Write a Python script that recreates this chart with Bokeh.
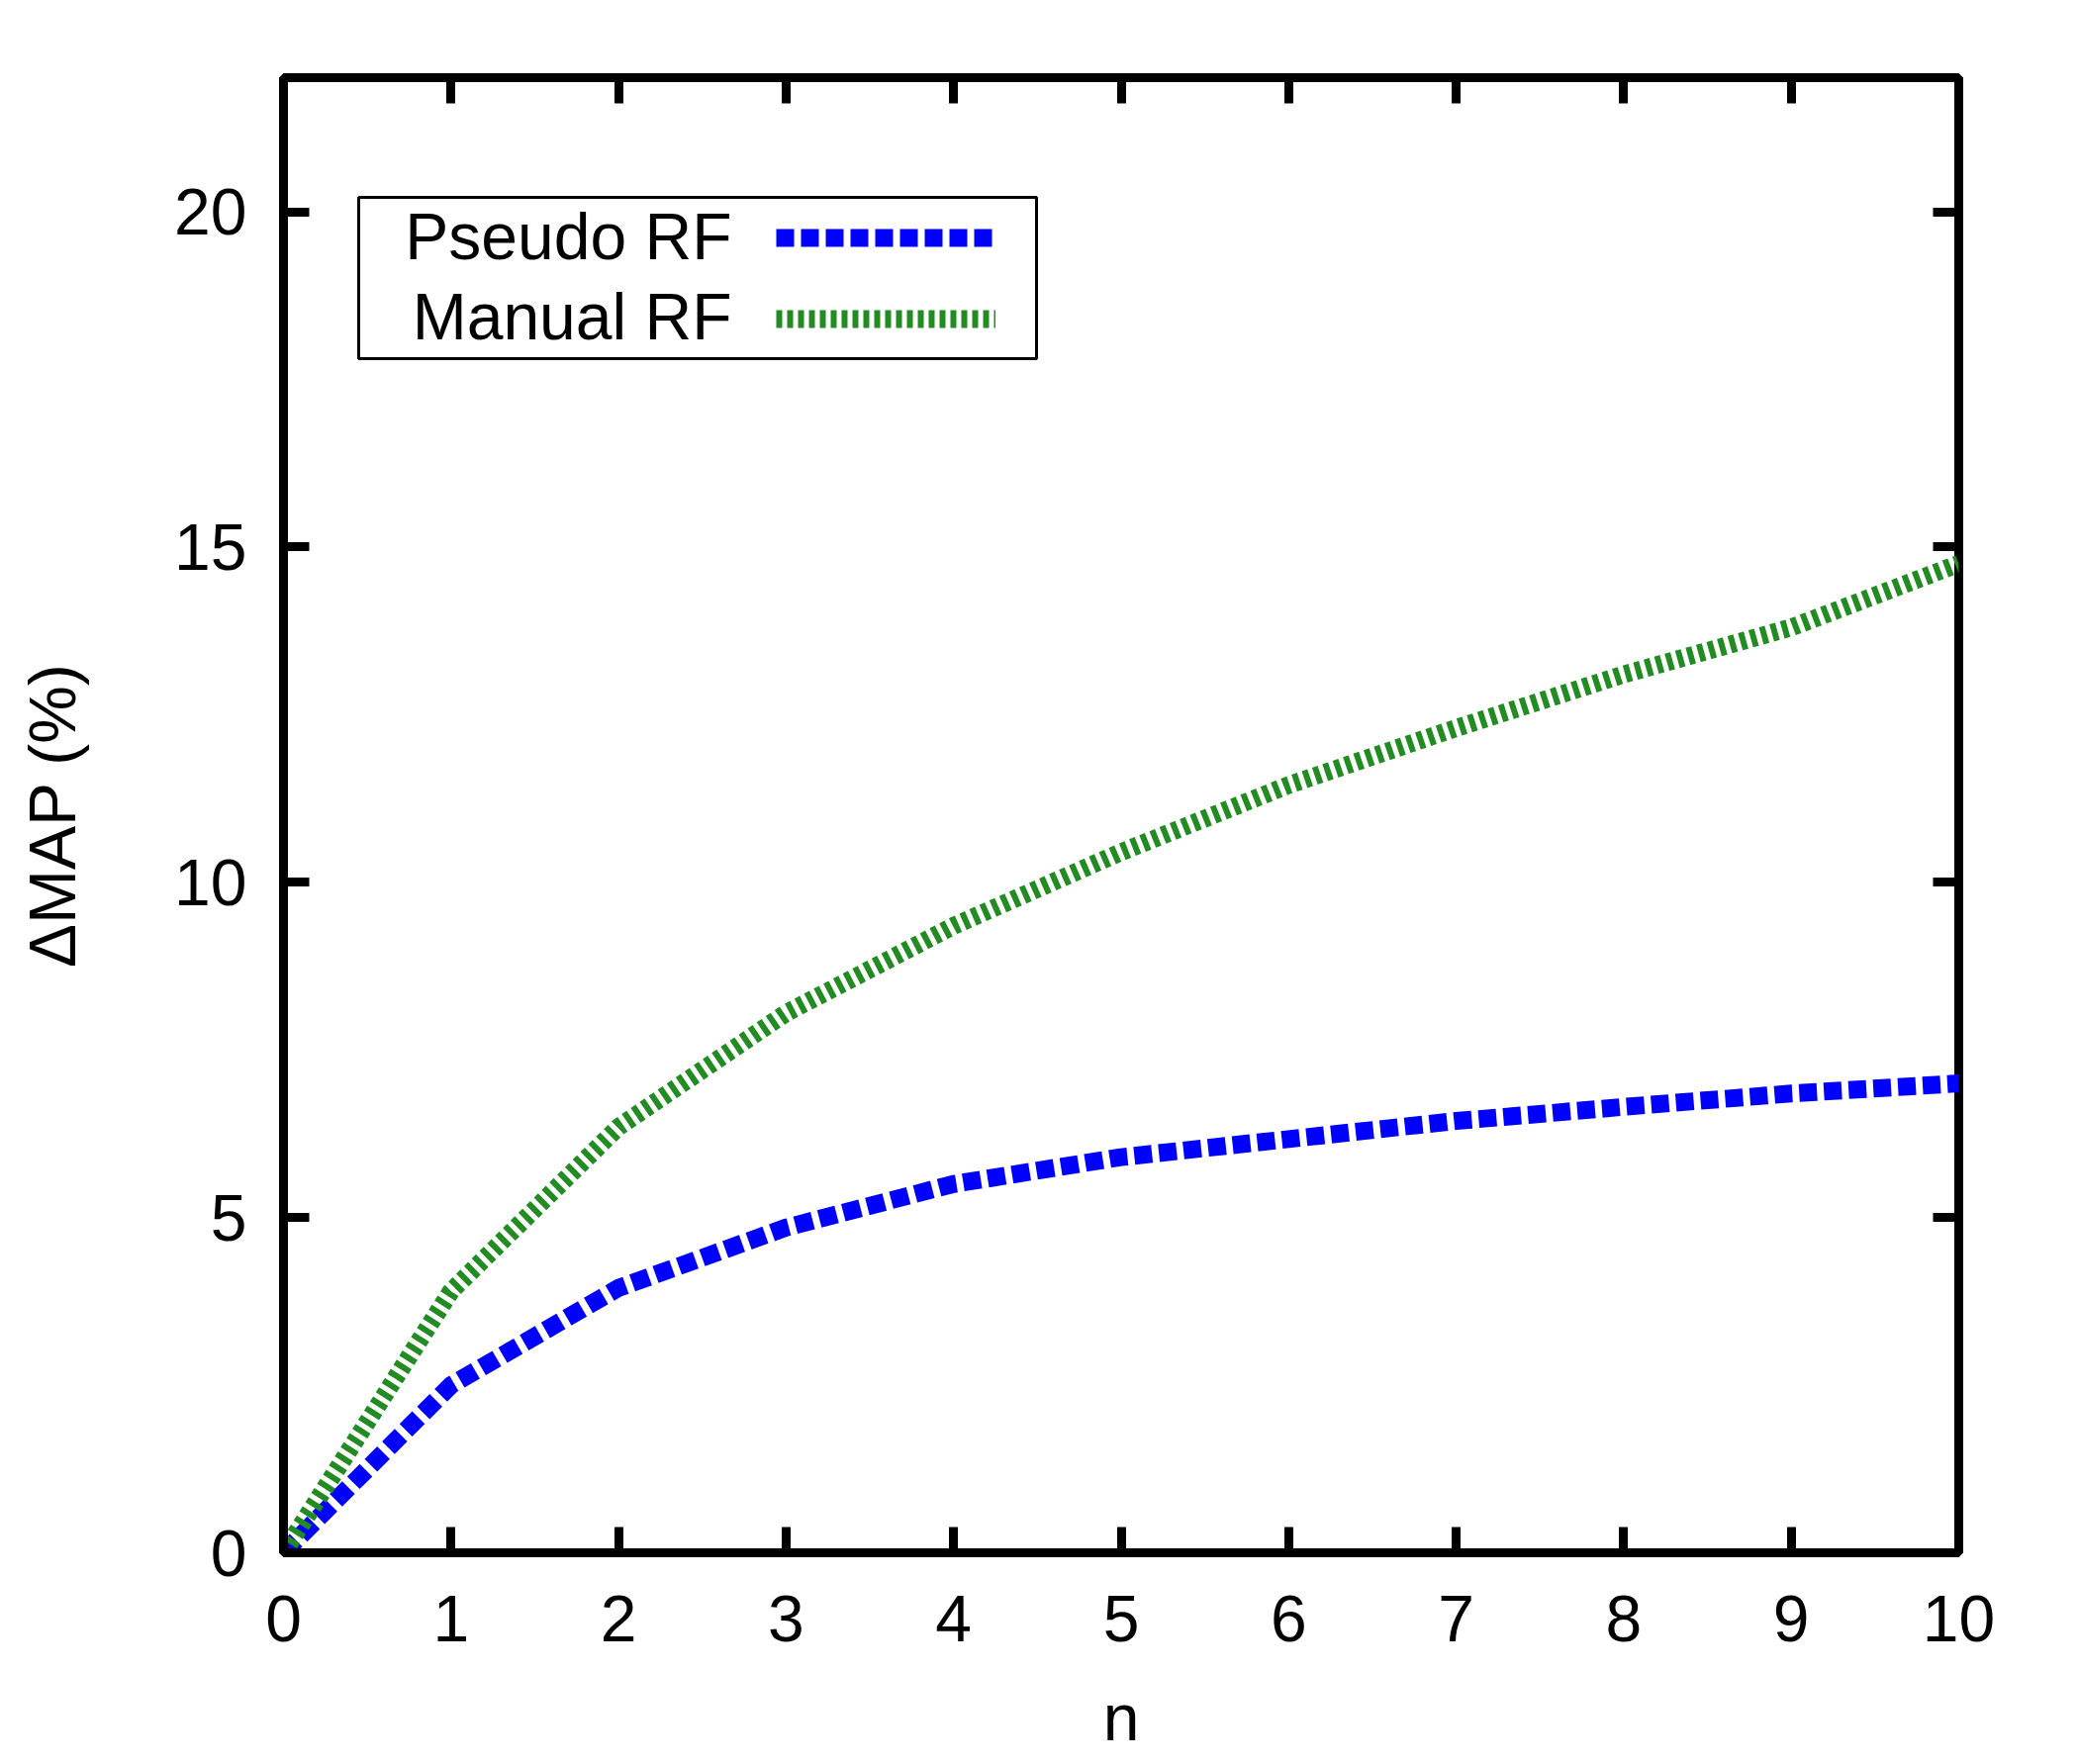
from bokeh.plotting import figure
from bokeh.models import (LinearAxis, FixedTicker, Legend, LegendItem, Label,
                          BoxAnnotation, CustomJSTickFormatter, Range1d)
from bokeh.core.properties import value
from bokeh.embed import file_html
from bokeh.resources import INLINE

# ---- data ----
n_values = [0, 1, 2, 3, 4, 5, 6, 7, 8, 9, 10]
pseudo_rf = [0.0, 2.5, 3.95, 4.85, 5.5, 5.9, 6.17, 6.44, 6.65, 6.85, 7.0]
manual_rf = [0.0, 3.9, 6.35, 8.05, 9.35, 10.45, 11.45, 12.3, 13.1, 13.8, 14.75]
x_ticks = [0, 1, 2, 3, 4, 5, 6, 7, 8, 9, 10]
y_ticks = [0, 5, 10, 15, 20]
series_names = ["Pseudo RF", "Manual RF"]

FONT = "Liberation Sans"
FS = "66px"

p = figure(frame_width=1693, frame_height=1491,
           x_range=Range1d(0, 10), y_range=Range1d(0, 22),
           output_backend="svg", toolbar_location=None,
           min_border_left=286, min_border_top=78,
           min_border_right=90, min_border_bottom=100,
           background_fill_color="white", border_fill_color="white")

p.outline_line_color = "black"
p.outline_line_width = 9
p.grid.visible = False

def style_axis(ax, ticks, show_labels=True):
    ax.ticker = FixedTicker(ticks=ticks)
    ax.axis_line_color = None
    ax.major_tick_in = 26
    ax.major_tick_out = 0
    ax.major_tick_line_width = 9
    ax.major_tick_line_color = "black"
    ax.minor_tick_line_color = None
    ax.major_label_text_font = FONT
    ax.major_label_text_font_size = FS
    ax.major_label_text_color = "black"
    ax.axis_label_text_font = FONT
    ax.axis_label_text_font_size = FS
    ax.axis_label_text_font_style = "normal"
    ax.axis_label_text_color = "black"
    if not show_labels:
        ax.formatter = CustomJSTickFormatter(code="return ''")

style_axis(p.xaxis[0], x_ticks)
style_axis(p.yaxis[0], y_ticks)
p.xaxis[0].axis_label = "n"
p.yaxis[0].axis_label = "\u0394MAP (%)"
p.xaxis[0].major_label_standoff = 43
p.yaxis[0].major_label_standoff = 37
p.xaxis[0].axis_label_standoff = 37
p.yaxis[0].axis_label_standoff = 83

top_ax = LinearAxis()
right_ax = LinearAxis()
style_axis(top_ax, x_ticks, show_labels=False)
style_axis(right_ax, y_ticks, show_labels=False)
p.add_layout(top_ax, "above")
p.add_layout(right_ax, "right")

r1 = p.line(n_values, pseudo_rf, line_color="#0000ff", line_width=18,
            line_dash="18 7", line_cap="butt")
r2 = p.line(n_values, manual_rf, line_color="#228b22", line_width=18,
            line_dash="6 5", line_cap="butt")

# legend samples (labels drawn to the left, as in the reference)
legend = Legend(items=[LegendItem(label=value(""), renderers=[r1]),
                       LegendItem(label=value(""), renderers=[r2])],
                location=(498, 1237), padding=0, margin=0, spacing=62,
                glyph_width=222, glyph_height=20, label_height=20,
                label_width=0, label_standoff=0,
                label_text_font_size="1px",
                border_line_alpha=0, background_fill_alpha=0)
p.add_layout(legend)

box = BoxAnnotation(left=76, right=761, bottom=1207, top=1370,
                    left_units="screen", right_units="screen",
                    top_units="screen", bottom_units="screen",
                    fill_alpha=0, line_color="black", line_width=3,
                    line_alpha=1)
p.add_layout(box)

for name, ybase in zip(series_names, [1331, 1250]):
    p.add_layout(Label(x=453, y=ybase, x_units="screen", y_units="screen",
                       text=name, text_align="right",
                       text_baseline="alphabetic",
                       text_font=FONT, text_font_size=FS,
                       text_color="black"))

open("out.html", "w").write(file_html(p, INLINE))
